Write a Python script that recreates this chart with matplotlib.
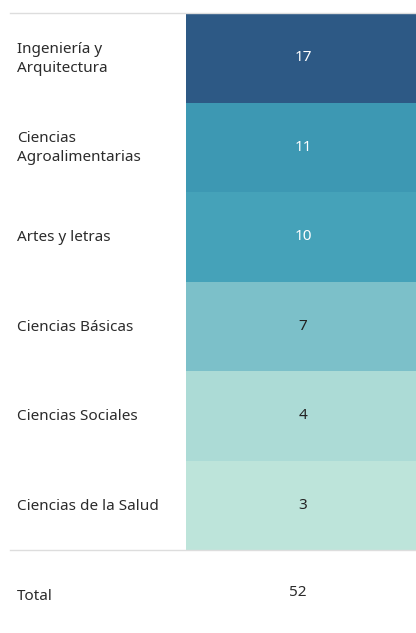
import matplotlib
matplotlib.use('Agg')
from matplotlib import pyplot as plt
import numpy as np

areas = ['Ingeniería y\nArquitectura', 'Ciencias\nAgroalimentarias', 'Artes y letras',
         'Ciencias Básicas', 'Ciencias Sociales', 'Ciencias de la Salud']
counts = [17, 11, 10, 7, 4, 3]
colors = ['#2d5985', '#3d98b3', '#45a2b9', '#7cc0c9', '#acdbd6', '#bde4da']
text_colors = ['white', 'white', 'white', '#222222', '#222222', '#222222']
total_label = 'Total'
total = sum(counts)

plt.rcParams['font.family'] = ['Noto Sans', 'DejaVu Sans']

W, H = 416, 633
fig = plt.figure(figsize=(W / 100, H / 100), dpi=100)
ax = fig.add_axes([0, 0, 1, 1])
ax.set_xlim(0, W)
ax.set_ylim(H, 0)
ax.axis('off')

top, row_h = 13, 89.5
cell_left, cell_right = 186, W
rows = np.arange(len(counts))
centers = top + row_h * (rows + 0.5)

ax.barh(centers, cell_right - cell_left, left=cell_left, height=row_h,
        color=colors, linewidth=0)

fs = 11
for c, name, n, tc in zip(centers, areas, counts, text_colors):
    ax.text(17, c + 1, name, ha='left', va='center',
            fontsize=fs, color='#2b2b2b', linespacing=1.4)
    ax.text(303, c, str(n), ha='center', va='center',
            fontsize=fs, color=tc)

bottom = top + row_h * len(counts)
ax.plot([10, W], [top, top], color='#dddddd', lw=1)
ax.plot([10, W], [bottom, bottom], color='#dddddd', lw=1)

ax.text(17, 596, total_label, ha='left', va='center', fontsize=fs, color='#2b2b2b')
ax.text(298, 592, str(total), ha='center', va='center', fontsize=fs, color='#2b2b2b')

fig.savefig('out.png', dpi=100)
